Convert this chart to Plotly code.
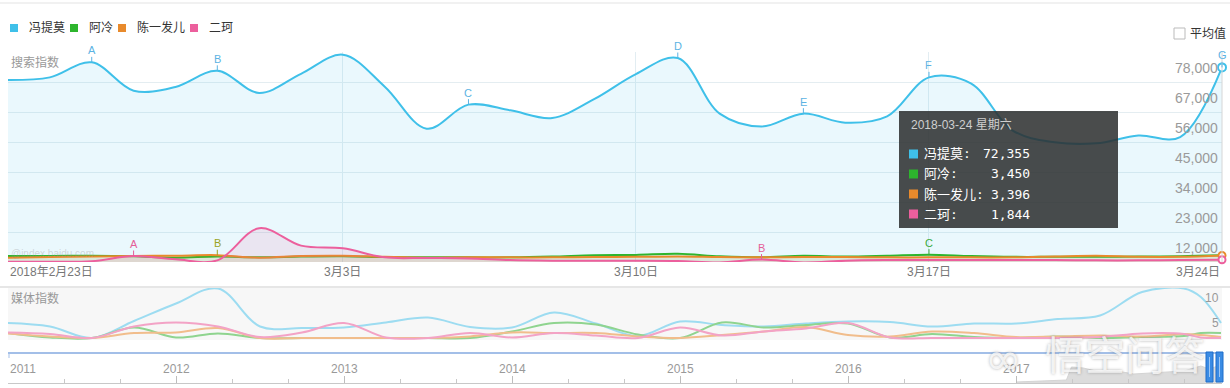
import plotly.graph_objects as go
import pandas as pd

W, H = 1230, 388
def px(x): return x / W
def py(y): return 1 - y / H

# ---------------- data ----------------
dates = pd.date_range('2018-02-23', '2018-03-24').strftime('%Y-%m-%d').tolist()
series_names = ['冯提莫', '阿冷', '陈一发儿', '二珂']
feng = [67700, 68700, 74200, 63800, 65200, 71100, 63000, 70000, 77000, 65300,
        49900, 58700, 56600, 53800, 60700, 69900, 75800, 55400, 50700, 55400,
        52100, 54400, 68700, 66500, 49200, 44900, 44500, 47400, 46800, 72355]
aleng = [3200, 3200, 3300, 3100, 2600, 3000, 2700, 3000, 3100, 2800,
         2700, 2700, 2700, 3000, 3500, 3600, 4000, 3100, 2700, 3300,
         3000, 3300, 3700, 3200, 2900, 2900, 2900, 3000, 3100, 3450]
chen = [2600, 2800, 3000, 3200, 3300, 3500, 2600, 3200, 3300, 2900,
        2600, 2700, 2700, 2700, 2800, 2900, 3000, 2800, 2700, 2800,
        2800, 2700, 2700, 2700, 2700, 3000, 3300, 2900, 2900, 3396]
erke = [1100, 1100, 1300, 3200, 2000, 1600, 13400, 7000, 6000, 2700,
        2500, 2300, 1700, 1500, 1500, 1500, 1400, 850, 1900, 850,
        1500, 1700, 1700, 1700, 1700, 1700, 1600, 1600, 1700, 1844]
search = [feng, aleng, chen, erke]

y_ticks = [1000, 12000, 23000, 34000, 45000, 56000, 67000, 78000]
y_tick_labels = ['', '12,000', '23,000', '34,000', '45,000', '56,000', '67,000', '78,000']
date_ticks = ['2018-02-23', '2018-03-03', '2018-03-10', '2018-03-17', '2018-03-24']
date_labels = ['2018年2月23日', '3月3日', '3月10日', '3月17日', '3月24日']

# event markers: (letter, series index, day index)
event_marks = [('A', 0, 2), ('B', 0, 5), ('C', 0, 11), ('D', 0, 16), ('E', 0, 19),
               ('F', 0, 22), ('G', 0, 29), ('A', 3, 3), ('B', 2, 5), ('B', 3, 18),
               ('C', 1, 22)]

tooltip_title = '2018-03-24 星期六'

# media index (years)
media_x = [2011.0, 2011.25, 2011.5, 2011.75, 2012.0, 2012.25, 2012.5, 2012.75,
           2013.0, 2013.25, 2013.5, 2013.75, 2014.0, 2014.25, 2014.5, 2014.75,
           2015.0, 2015.25, 2015.5, 2015.75, 2016.0, 2016.25, 2016.5, 2016.75,
           2017.0, 2017.25, 2017.5, 2017.75, 2018.0, 2018.1, 2018.22]
media_feng = [3.0, 2.3, 0.0, 3.4, 6.9, 9.9, 2.3, 2.0, 2.1, 3.1, 4.1, 2.2, 2.1, 5.1, 2.9, 0.4,
              3.3, 2.6, 2.3, 2.9, 3.3, 3.2, 2.3, 2.9, 2.9, 3.8, 4.5, 9.2, 9.9, 8.2, 3.0]
media_aleng = [1.0, 0.1, 0.0, 2.1, 0.1, 0.9, 0.0, 0.0, 0.0, 0.0, 0.0, 0.0, 1.3, 3.0, 2.7, 0.7,
               0.0, 3.1, 2.1, 2.6, 2.9, 0.1, 0.8, 0.2, 0.0, 0.3, 0.0, 0.2, 0.4, 1.0, 1.0]
media_chen = [0.9, 0.3, 0.0, 1.0, 1.1, 2.0, 0.0, 0.0, 0.0, 0.0, 0.0, 0.3, 1.1, 1.0, 1.0, 0.3,
              0.0, 0.6, 1.3, 2.2, 0.6, 0.3, 1.3, 1.0, 0.2, 0.3, 0.5, 0.3, 0.8, 0.6, 0.2]
media_erke = [1.1, 0.8, 0.0, 2.3, 3.1, 2.3, 0.2, 1.1, 3.0, 0.1, 0.0, 1.0, 0.1, 1.0, 0.5, 0.0,
              2.1, 0.5, 1.3, 1.9, 3.0, 0.1, 0.0, 0.0, 0.0, 0.0, 0.2, 0.9, 0.8, 0.1, 0.0]
media = [media_feng, media_aleng, media_chen, media_erke]
media_ticks = [10, 5]

# overview (range slider) area
overview_x = [2017.0, 2017.2, 2017.3, 2017.33, 2017.4, 2017.5, 2017.6, 2017.7,
              2017.8, 2017.9, 2018.0, 2018.1, 2018.15, 2018.22]
overview_y = [0.05, 0.1, 0.15, 0.8, 0.75, 0.55, 0.6, 0.45, 0.5, 0.55, 0.6, 0.85, 0.7, 0.9]
year_ticks = [2011, 2012, 2013, 2014, 2015, 2016, 2017]
year_labels = ['2011', '2012', '2013', '2014', '2015', '2016', '2017']

# ---------------- styles ----------------
colors = ['#3fc0e9', '#2db52d', '#e88a2c', '#ec5f9d']
fills = ['rgba(63,192,233,0.11)', 'rgba(45,181,45,0.08)', 'rgba(232,138,44,0.10)', 'rgba(236,95,157,0.12)']
media_colors = ['#9ddcf1', '#8fd48f', '#f1bd8c', '#f3a3c6']
mark_colors = ['#5cb3e3', '#3daa3d', '#9aa322', '#e45f98']
FONT = 'Liberation Sans, Noto Sans CJK SC, sans-serif'
MONO = 'DejaVu Sans Mono, Noto Sans CJK SC, monospace'

fig = go.Figure()

for i, vals in enumerate(search):
    fig.add_trace(go.Scatter(
        x=dates, y=vals, mode='lines', name=series_names[i],
        line=dict(color=colors[i], width=2, shape='spline', smoothing=1),
        fill='tozeroy', fillcolor=fills[i], xaxis='x', yaxis='y', hoverinfo='skip'))

# end markers
for i in [0, 2, 3]:
    fig.add_trace(go.Scatter(
        x=[dates[-1]], y=[search[i][-1]], mode='markers', cliponaxis=False,
        marker=dict(size=8 if i == 0 else 7, color='white', line=dict(color=colors[i], width=2)),
        xaxis='x', yaxis='y', hoverinfo='skip'))

for i, vals in enumerate(media):
    fig.add_trace(go.Scatter(
        x=media_x, y=vals, mode='lines',
        line=dict(color=media_colors[i], width=2, shape='spline', smoothing=1),
        xaxis='x2', yaxis='y2', hoverinfo='skip'))

fig.add_trace(go.Scatter(
    x=overview_x, y=overview_y, mode='lines', line=dict(color='#d4d4d4', width=1),
    fill='tozeroy', fillcolor='#dcdcdc', xaxis='x3', yaxis='y3', hoverinfo='skip'))

xdom = [px(8), px(1222)]
fig.update_layout(
    width=W, height=H, margin=dict(l=0, r=0, t=0, b=0),
    paper_bgcolor='white', plot_bgcolor='rgba(0,0,0,0)', showlegend=False,
    font=dict(family=FONT, size=12, color='#333'), hovermode=False,
    xaxis=dict(domain=xdom, type='date', range=[dates[0], dates[-1]], anchor='y',
               tickvals=date_ticks[1:4], showticklabels=False, showgrid=True,
               gridcolor='#e2edf2', gridwidth=1, zeroline=False, showline=False, ticks=''),
    yaxis=dict(domain=[py(262), py(52)], range=[1000, 78000], anchor='x',
               tickvals=y_ticks, showticklabels=False, showgrid=True,
               gridcolor='#e4edf1', gridwidth=1, zeroline=False, showline=False),
    xaxis2=dict(domain=xdom, range=[2011.0, 2018.226], anchor='y2',
                showticklabels=False, showgrid=False, zeroline=False, showline=False),
    yaxis2=dict(domain=[py(341), py(287)], range=[-0.6, 10.2], anchor='x2',
                showticklabels=False, showgrid=False, zeroline=False),
    xaxis3=dict(domain=xdom, range=[2011.0, 2018.226], anchor='y3',
                tickvals=year_ticks, showticklabels=False, ticks='inside', ticklen=7,
                tickcolor='#bdbdbd', showline=True, linecolor='#c8c8c8', linewidth=1,
                showgrid=False, zeroline=False,
                minor=dict(ticks='inside', ticklen=4, tickcolor='#c8c8c8', dtick=1/3,
                           tick0=2011, showgrid=False)),
    yaxis3=dict(domain=[py(383), py(360)], range=[0, 1.15], anchor='x3',
                showticklabels=False, showgrid=False, zeroline=False),
)

shapes = []
# top rule and separators
shapes.append(dict(type='line', xref='paper', yref='paper', x0=0, x1=1, y0=py(3), y1=py(3),
                   line=dict(color='#e3e3e3', width=1)))
shapes.append(dict(type='rect', xref='paper', yref='paper', x0=px(8), x1=px(1222), y0=py(340), y1=py(288),
                   fillcolor='#f7f7f7', line=dict(width=0), layer='below'))
shapes.append(dict(type='line', xref='paper', yref='paper', x0=0, x1=1, y0=py(287), y1=py(287),
                   line=dict(color='#e6e6e6', width=2)))
shapes.append(dict(type='line', xref='paper', yref='paper', x0=px(1222), x1=px(1222), y0=py(262), y1=py(52),
                   line=dict(color='#d6d6d6', width=1)))
# slider line
shapes.append(dict(type='line', xref='paper', yref='paper', x0=px(8), x1=px(1222), y0=py(353), y1=py(353),
                   line=dict(color='#a3bfe8', width=2)))
shapes.append(dict(type='line', xref='paper', yref='paper', x0=px(9), x1=px(9), y0=py(353), y1=py(358),
                   line=dict(color='#a3bfe8', width=1)))
# slider handles
for hx in (1206, 1216):
    shapes.append(dict(type='rect', xref='paper', yref='paper', x0=px(hx), x1=px(hx + 7),
                       y0=py(382), y1=py(352), fillcolor='#3a8be4', line=dict(color='#1e6cc9', width=1)))
    shapes.append(dict(type='line', xref='paper', yref='paper', x0=px(hx + 3.5), x1=px(hx + 3.5),
                       y0=py(377), y1=py(357), line=dict(color='#9cc6f5', width=1)))
# legend squares
legend_sq = [10, 70, 118, 190]
for i, lx in enumerate(legend_sq):
    shapes.append(dict(type='rect', xref='paper', yref='paper', x0=px(lx), x1=px(lx + 8),
                       y0=py(32), y1=py(24), fillcolor=colors[i], line=dict(width=0)))
# average checkbox
shapes.append(dict(type='rect', xref='paper', yref='paper', x0=px(1174), x1=px(1185),
                   y0=py(39), y1=py(28), fillcolor='white', line=dict(color='#bbbbbb', width=1)))
# tooltip box
shapes.append(dict(type='rect', xref='paper', yref='paper', x0=px(899), x1=px(1118),
                   y0=py(228), y1=py(111), fillcolor='rgba(44,46,46,0.86)', line=dict(width=0), layer='above'))
rows_y = [154, 174, 194, 214]
for i, ry in enumerate(rows_y):
    shapes.append(dict(type='rect', xref='paper', yref='paper', x0=px(909), x1=px(918),
                       y0=py(ry + 4.5), y1=py(ry - 4.5), fillcolor=colors[i], line=dict(width=0), layer='above'))

ann = []
# legend text
legend_tx = [27, 87, 135, 207]
for i, lx in enumerate(legend_tx):
    ann.append(dict(xref='paper', yref='paper', x=px(lx), y=py(28), text=series_names[i],
                    showarrow=False, xanchor='left', yanchor='middle',
                    font=dict(size=12, color='#333')))
ann.append(dict(xref='paper', yref='paper', x=px(1188), y=py(33), text='平均值', showarrow=False,
                xanchor='left', yanchor='middle', font=dict(size=12, color='#333')))
ann.append(dict(xref='paper', yref='paper', x=px(9), y=py(63), text='搜索指数', showarrow=False,
                xanchor='left', yanchor='middle', font=dict(size=12, color='#999')))
ann.append(dict(xref='paper', yref='paper', x=px(9), y=py(253), text='@index.baidu.com', showarrow=False,
                xanchor='left', yanchor='middle', font=dict(size=10, color='rgba(150,150,150,0.35)')))
ann.append(dict(xref='paper', yref='paper', x=px(9), y=py(298), text='媒体指数', showarrow=False,
                xanchor='left', yanchor='middle', font=dict(size=12, color='#999')))
# y-axis labels (below their gridline)
for v, t in zip(y_ticks, y_tick_labels):
    if t:
        ann.append(dict(xref='paper', yref='y', x=px(1220), y=v, text=t, showarrow=False,
                        xanchor='right', yanchor='middle', yshift=-16,
                        font=dict(size=14, color='#9a9a9a')))
# date labels
anchors = ['left', 'center', 'center', 'center', 'right']
for d, t, a in zip(date_ticks, date_labels, anchors):
    ann.append(dict(xref='x', yref='paper', x=d, y=py(272), text=t, showarrow=False,
                    xanchor=a, yanchor='middle', font=dict(size=12, color='#777')))
# media labels
for v in media_ticks:
    ann.append(dict(xref='paper', yref='y2', x=px(1221), y=v, text=str(v), showarrow=False,
                    xanchor='right', yanchor='middle', yshift=-10,
                    font=dict(size=12, color='#999')))
# year labels
for yv, yl in zip(year_ticks, year_labels):
    ann.append(dict(xref='x3', yref='paper', x=yv, y=py(369), text=yl, showarrow=False,
                    xanchor='left' if yv == 2011 else 'center', yanchor='middle',
                    font=dict(size=12, color='#999')))
# event markers
for letter, si, di in event_marks:
    col = mark_colors[0] if si == 0 else mark_colors[si]
    ann.append(dict(xref='x', yref='y', x=dates[di], y=search[si][di], text=letter,
                    showarrow=True, arrowhead=0, arrowwidth=1, arrowcolor=col,
                    ax=0, ay=-12, font=dict(size=11, color=col), borderpad=0))
# tooltip texts
ann.append(dict(xref='paper', yref='paper', x=px(909), y=py(125), text=tooltip_title, showarrow=False,
                xanchor='left', yanchor='middle', font=dict(size=12, color='#cfcfcf')))
for i, ry in enumerate(rows_y):
    ann.append(dict(xref='paper', yref='paper', x=px(922), y=py(ry), text=series_names[i] + ':',
                    showarrow=False, xanchor='left', yanchor='middle',
                    font=dict(family=MONO, size=13, color='white')))
    ann.append(dict(xref='paper', yref='paper', x=px(1032), y=py(ry), text=f'{search[i][-1]:,}',
                    showarrow=False, xanchor='right', yanchor='middle',
                    font=dict(family=MONO, size=13, color='white')))
# watermark
ann.append(dict(xref='paper', yref='paper', x=px(1125), y=py(356), text='悟空问答', showarrow=False,
                xanchor='center', yanchor='middle',
                font=dict(size=40, color='rgba(255,255,255,0.8)',
                          shadow='0px 0px 3px rgba(90,90,90,0.6)')))
ann.append(dict(xref='paper', yref='paper', x=px(1003), y=py(358), text='∞', showarrow=False,
                xanchor='center', yanchor='middle',
                font=dict(family='DejaVu Sans', size=44, color='rgba(255,255,255,0.8)',
                          shadow='0px 0px 3px rgba(90,90,90,0.6)')))

fig.update_layout(shapes=shapes, annotations=ann)
fig.write_html('out.html', config={'displayModeBar': False, 'staticPlot': True},
               post_script="document.body.style.margin='0';document.body.style.overflow='hidden';")
